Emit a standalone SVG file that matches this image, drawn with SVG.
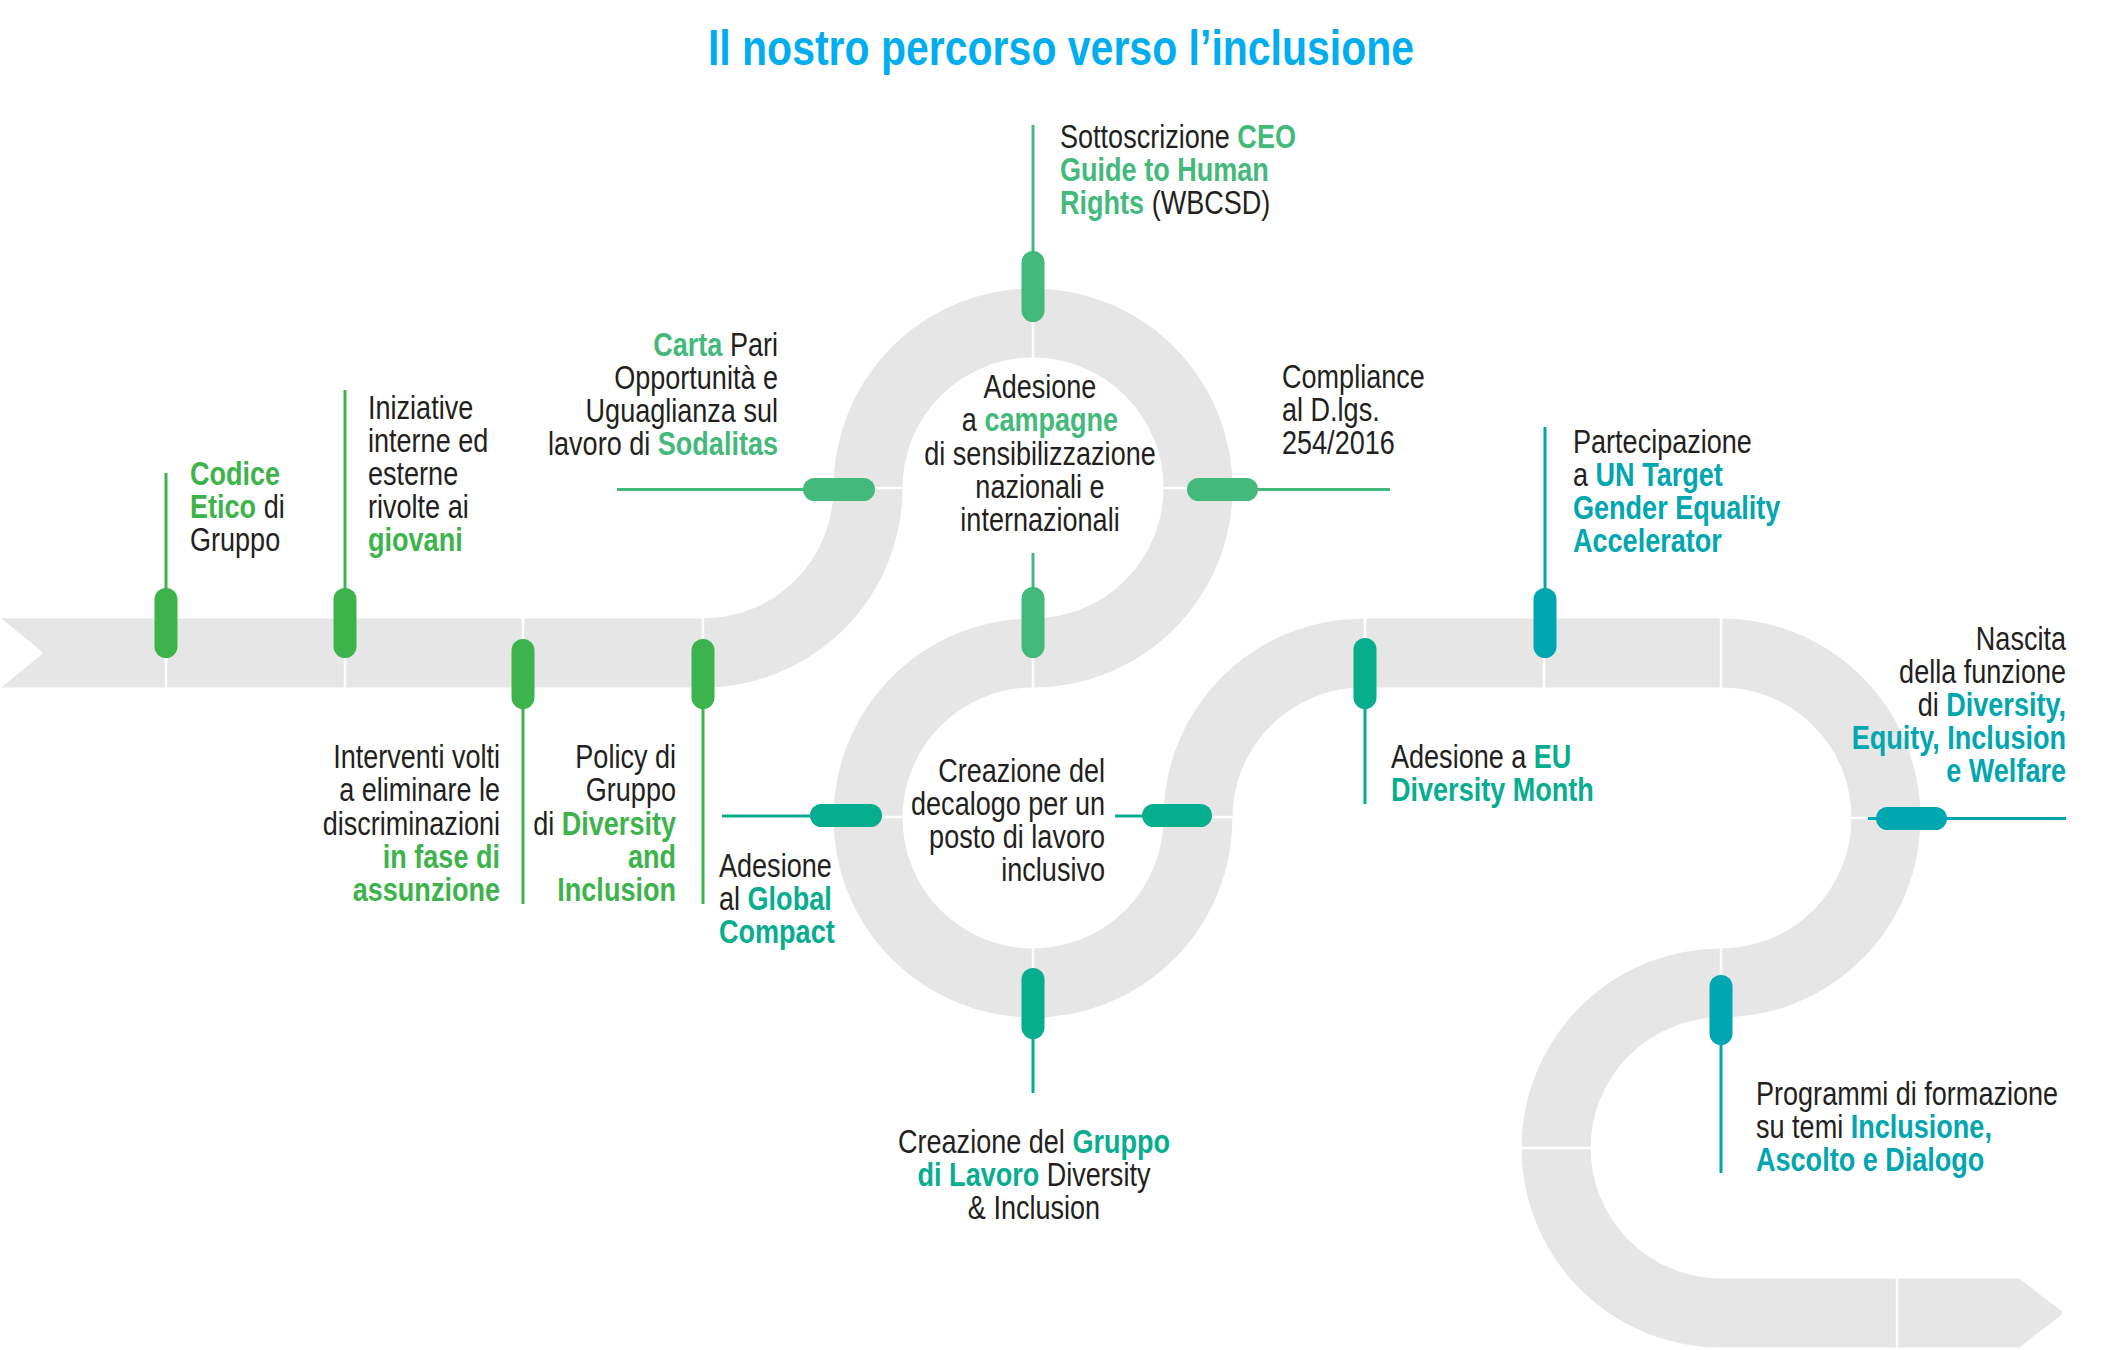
<svg xmlns="http://www.w3.org/2000/svg" width="2107" height="1350" viewBox="0 0 2107 1350">
<style>
.road{fill:none;stroke:#e6e6e6;stroke-width:69}
.tick{stroke:#ffffff;stroke-width:2.5}
.ln{stroke-width:3;fill:none}
.t{font-family:'Liberation Sans',Arial,sans-serif;font-size:33px;fill:#231f20}
.b{font-weight:bold}
.g1{fill:#3db34c}.g2{fill:#43b97b}.g3{fill:#07ad8f}.g4{fill:#00a6b0}
.s1{stroke:#3db34c}.s2{stroke:#43b97b}.s3{stroke:#07ad8f}.s4{stroke:#00a6b0}
.title{font-family:'Liberation Sans',Arial,sans-serif;font-size:50px;font-weight:bold;fill:#00aeef}
</style>
<rect width="2107" height="1350" fill="#ffffff"/>
<text class="title" transform="matrix(0.82 0 0 1 1061 0)" x="0" y="65" text-anchor="middle">Il nostro percorso verso l’inclusione</text>

<g id="road">
<path class="road" d="M0 653 L703 653 A165 165 0 0 0 868 488 A165 165 0 1 1 1033 653 A165 165 0 1 0 1198 818 A165 165 0 0 1 1363 653 L1721 653 A165 165 0 0 1 1721 983 A165 165 0 0 0 1721 1313 L2019 1313"/>
<polygon points="-4,618 39,653 -4,688" fill="#ffffff" stroke="#ffffff" stroke-width="6" stroke-linejoin="round"/>
<polygon points="2018,1281.5 2059,1313 2018,1344.5" fill="#e6e6e6" stroke="#e6e6e6" stroke-width="6" stroke-linejoin="round"/>
<g class="tick">
<line x1="166" y1="618" x2="166" y2="688"/>
<line x1="345" y1="618" x2="345" y2="688"/>
<line x1="523" y1="618" x2="523" y2="688"/>
<line x1="703" y1="618" x2="703" y2="688"/>
<line x1="1033" y1="288" x2="1033" y2="358"/>
<line x1="833" y1="488" x2="903" y2="488"/>
<line x1="1163" y1="488" x2="1233" y2="488"/>
<line x1="1033" y1="618" x2="1033" y2="688"/>
<line x1="833" y1="817" x2="903" y2="817"/>
<line x1="1163" y1="817" x2="1233" y2="817"/>
<line x1="1033" y1="948" x2="1033" y2="1018"/>
<line x1="1365" y1="618" x2="1365" y2="688"/>
<line x1="1544" y1="618" x2="1544" y2="688"/>
<line x1="1721" y1="618" x2="1721" y2="688"/>
<line x1="1851" y1="818" x2="1921" y2="818"/>
<line x1="1721" y1="948" x2="1721" y2="1018"/>
<line x1="1521" y1="1148" x2="1591" y2="1148"/>
<line x1="1897" y1="1278" x2="1897" y2="1348"/>
</g>
</g>

<g id="connectors">
<line class="ln s1" x1="166" y1="473" x2="166" y2="590"/>
<line class="ln s1" x1="345" y1="390" x2="345" y2="590"/>
<line class="ln s1" x1="523" y1="707" x2="523" y2="904"/>
<line class="ln s1" x1="703" y1="707" x2="703" y2="904"/>
<line class="ln s2" x1="617" y1="489.5" x2="805" y2="489.5"/>
<line class="ln s2" x1="1033" y1="125" x2="1033" y2="253"/>
<line class="ln s2" x1="1256" y1="489.5" x2="1390" y2="489.5"/>
<line class="ln s2" x1="1033" y1="553" x2="1033" y2="589"/>
<line class="ln s3" x1="722" y1="816" x2="812" y2="816"/>
<line class="ln s3" x1="1115" y1="816" x2="1144" y2="816"/>
<line class="ln s3" x1="1033" y1="1037" x2="1033" y2="1093"/>
<line class="ln s3" x1="1365" y1="707" x2="1365" y2="804"/>
<line class="ln s4" x1="1545" y1="427" x2="1545" y2="590"/>
<line class="ln s4" x1="1868" y1="818.5" x2="2066" y2="818.5"/>
<line class="ln s4" x1="1721" y1="1043" x2="1721" y2="1173"/>
</g>

<g id="n-codice">
<rect class="g1" x="154.5" y="588" width="23" height="70" rx="11.5"/>
<text class="t" transform="matrix(0.82 0 0 1 190 0)"><tspan x="0" y="485" class="b g1">Codice</tspan><tspan x="0" y="518"><tspan class="b g1">Etico</tspan> di</tspan><tspan x="0" y="551">Gruppo</tspan></text>
</g>
<g id="n-iniziative">
<rect class="g1" x="333.5" y="588" width="23" height="70" rx="11.5"/>
<text class="t" transform="matrix(0.82 0 0 1 368 0)"><tspan x="0" y="419">Iniziative</tspan><tspan x="0" y="452">interne ed</tspan><tspan x="0" y="485">esterne</tspan><tspan x="0" y="518">rivolte ai</tspan><tspan x="0" y="551" class="b g1">giovani</tspan></text>
</g>
<g id="n-interventi">
<rect class="g1" x="511.5" y="639" width="23" height="70" rx="11.5"/>
<text class="t" transform="matrix(0.82 0 0 1 500 0)" text-anchor="end"><tspan x="0" y="768">Interventi volti</tspan><tspan x="0" y="801">a eliminare le</tspan><tspan x="0" y="835">discriminazioni</tspan><tspan x="0" y="868" class="b g1">in fase di</tspan><tspan x="0" y="901" class="b g1">assunzione</tspan></text>
</g>
<g id="n-policy">
<rect class="g1" x="691.5" y="639" width="23" height="70" rx="11.5"/>
<text class="t" transform="matrix(0.82 0 0 1 676 0)" text-anchor="end"><tspan x="0" y="768">Policy di</tspan><tspan x="0" y="801">Gruppo</tspan><tspan x="0" y="835">di <tspan class="b g1">Diversity</tspan></tspan><tspan x="0" y="868" class="b g1">and</tspan><tspan x="0" y="901" class="b g1">Inclusion</tspan></text>
</g>
<g id="n-carta">
<rect class="g2" x="803" y="478" width="72" height="23" rx="11.5"/>
<text class="t" transform="matrix(0.82 0 0 1 778 0)" text-anchor="end"><tspan x="0" y="356"><tspan class="b g2">Carta</tspan> Pari</tspan><tspan x="0" y="389">Opportunità e</tspan><tspan x="0" y="422">Uguaglianza sul</tspan><tspan x="0" y="455">lavoro di <tspan class="b g2">Sodalitas</tspan></tspan></text>
</g>
<g id="n-ceo">
<rect class="g2" x="1021.5" y="251" width="23" height="71" rx="11.5"/>
<text class="t" transform="matrix(0.82 0 0 1 1060 0)"><tspan x="0" y="148">Sottoscrizione <tspan class="b g2">CEO</tspan></tspan><tspan x="0" y="181" class="b g2">Guide to Human</tspan><tspan x="0" y="214"><tspan class="b g2">Rights</tspan> (WBCSD)</tspan></text>
</g>
<g id="n-campagne">
<rect class="g2" x="1021.5" y="587" width="23" height="71" rx="11.5"/>
<text class="t" transform="matrix(0.82 0 0 1 1040 0)" text-anchor="middle"><tspan x="0" y="398">Adesione</tspan><tspan x="0" y="431">a <tspan class="b g2">campagne</tspan></tspan><tspan x="0" y="465">di sensibilizzazione</tspan><tspan x="0" y="498">nazionali e</tspan><tspan x="0" y="531">internazionali</tspan></text>
</g>
<g id="n-compliance">
<rect class="g2" x="1187" y="478" width="71" height="23" rx="11.5"/>
<text class="t" transform="matrix(0.82 0 0 1 1282 0)"><tspan x="0" y="388">Compliance</tspan><tspan x="0" y="421">al D.lgs.</tspan><tspan x="0" y="454">254/2016</tspan></text>
</g>
<g id="n-global">
<rect class="g3" x="810" y="804" width="72" height="23" rx="11.5"/>
<text class="t" transform="matrix(0.82 0 0 1 719 0)"><tspan x="0" y="877">Adesione</tspan><tspan x="0" y="910">al <tspan class="b g3">Global</tspan></tspan><tspan x="0" y="943" class="b g3">Compact</tspan></text>
</g>
<g id="n-decalogo">
<rect class="g3" x="1142" y="804" width="70" height="23" rx="11.5"/>
<text class="t" transform="matrix(0.82 0 0 1 1105 0)" text-anchor="end"><tspan x="0" y="782">Creazione del</tspan><tspan x="0" y="815">decalogo per un</tspan><tspan x="0" y="848">posto di lavoro</tspan><tspan x="0" y="881">inclusivo</tspan></text>
</g>
<g id="n-gruppo">
<rect class="g3" x="1021.5" y="968" width="23" height="71" rx="11.5"/>
<text class="t" transform="matrix(0.82 0 0 1 1034 0)" text-anchor="middle"><tspan x="0" y="1153">Creazione del <tspan class="b g3">Gruppo</tspan></tspan><tspan x="0" y="1186"><tspan class="b g3">di Lavoro</tspan> Diversity</tspan><tspan x="0" y="1219">&amp; Inclusion</tspan></text>
</g>
<g id="n-eu">
<rect class="g3" x="1353.5" y="638" width="23" height="71" rx="11.5"/>
<text class="t" transform="matrix(0.82 0 0 1 1391 0)"><tspan x="0" y="768">Adesione a <tspan class="b g3">EU</tspan></tspan><tspan x="0" y="801" class="b g3">Diversity Month</tspan></text>
</g>
<g id="n-un">
<rect class="g4" x="1533.5" y="588" width="23" height="70" rx="11.5"/>
<text class="t" transform="matrix(0.82 0 0 1 1573 0)"><tspan x="0" y="453">Partecipazione</tspan><tspan x="0" y="486">a <tspan class="b g4">UN Target</tspan></tspan><tspan x="0" y="519" class="b g4">Gender Equality</tspan><tspan x="0" y="552" class="b g4">Accelerator</tspan></text>
</g>
<g id="n-nascita">
<rect class="g4" x="1876" y="807" width="71" height="23" rx="11.5"/>
<text class="t" transform="matrix(0.82 0 0 1 2066 0)" text-anchor="end"><tspan x="0" y="650">Nascita</tspan><tspan x="0" y="683">della funzione</tspan><tspan x="0" y="716">di <tspan class="b g4">Diversity,</tspan></tspan><tspan x="0" y="749" class="b g4">Equity, Inclusion</tspan><tspan x="0" y="782" class="b g4">e Welfare</tspan></text>
</g>
<g id="n-programmi">
<rect class="g4" x="1709.5" y="975" width="23" height="70" rx="11.5"/>
<text class="t" transform="matrix(0.82 0 0 1 1756 0)"><tspan x="0" y="1105">Programmi di formazione</tspan><tspan x="0" y="1138">su temi <tspan class="b g4">Inclusione,</tspan></tspan><tspan x="0" y="1171" class="b g4">Ascolto e Dialogo</tspan></text>
</g>
</svg>
